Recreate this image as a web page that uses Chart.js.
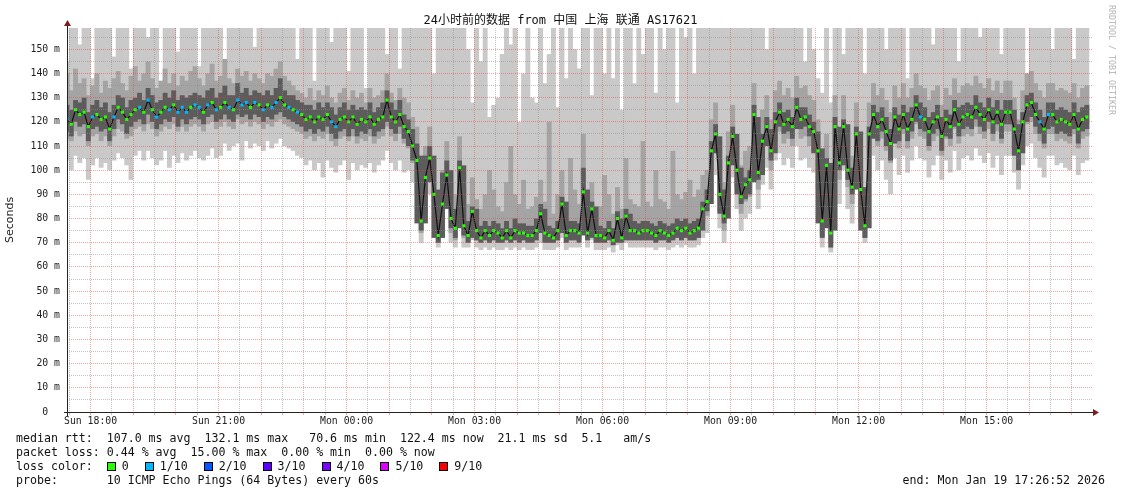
<!DOCTYPE html>
<html><head><meta charset="utf-8">
<script src="https://cdn.jsdelivr.net/npm/chart.js@4.4.1/dist/chart.umd.min.js"></script>
<style>
body{margin:0;background:#fff;}
#wrap{position:relative;width:1121px;height:494px;overflow:hidden;background:#fff;}
#c{position:absolute;left:0;top:0;}
.leg{position:absolute;left:16px;font-family:"DejaVu Sans Mono",monospace;font-size:11.6px;line-height:14px;white-space:pre;color:#111;}
.box{display:inline-block;width:7px;height:7px;border:1px solid #000;vertical-align:-1px;margin-right:6px;}
.lab{margin-right:16px;}
.wm{position:absolute;left:1116px;top:5px;transform:rotate(90deg);transform-origin:0 0;font-family:"DejaVu Sans Mono",monospace;font-size:8.3px;line-height:9px;white-space:pre;color:#b4b4b4;}
</style></head>
<body>
<div id="wrap">
<canvas id="c" width="1121" height="494"></canvas>
<div class="wm">RRDTOOL / TOBI OETIKER</div>
<div class="leg" style="top:431px">median rtt:  107.0 ms avg  132.1 ms max   70.6 ms min  122.4 ms now  21.1 ms sd  5.1   am/s</div>
<div class="leg" style="top:445px">packet loss: 0.44 % avg  15.00 % max  0.00 % min  0.00 % now</div>
<div class="leg" id="lossrow" style="top:459px"></div>
<div class="leg" style="top:473px">probe:       10 ICMP Echo Pings (64 Bytes) every 60s</div>
<div class="leg" style="top:473px;left:auto;right:16px">end: Mon Jan 19 17:26:52 2026</div>
</div>
<script>
const title = '24小时前的数据 from 中国 上海 联通 AS17621';
const startHour = 17.4478;   // Sun 17:26:52, hours since Sun 00:00
const stepHours = 0.1;       // one sample every 6 minutes
const xEnd = 41.4928;

const xMajorTicks = [18, 21, 24, 27, 30, 33, 36, 39];
const xMajorLabels = ['Sun 18:00','Sun 21:00','Mon 00:00','Mon 03:00','Mon 06:00','Mon 09:00','Mon 12:00','Mon 15:00'];
const yMajorTicks = [0,10,20,30,40,50,60,70,80,90,100,110,120,130,140,150];

const lossSteps = [0, 1, 2, 3, 4, 5, 9];
const lossLabels = ['0','1/10','2/10','3/10','4/10','5/10','9/10'];
const lossColors = ['#26ff00','#00b8ff','#0059ff','#5e00ff','#7e00ff','#dd00ff','#ff0000'];

// median rtt (ms)
const med = [
121,119,125,123,124,118,122,123,121,122,
117,122,126,124,121,123,125,126,124,129,
125,122,124,126,125,127,124,126,124,126,
127,126,124,127,128,125,126,128,126,125,
129,127,128,126,128,127,125,127,126,128,
130,127,126,125,124,123,121,122,120,122,
121,123,120,118,121,122,120,122,119,121,
120,122,119,121,122,129,122,120,123,118,
116,110,104,79,97,105,90,73,86,98,
80,76,101,77,73,83,75,72,75,73,
75,74,72,75,72,75,74,74,73,73,
75,82,74,73,72,75,86,73,75,75,
74,91,74,84,73,73,72,75,71,80,
72,81,75,75,74,75,75,74,73,75,
74,73,74,76,75,76,74,75,76,84,
87,108,115,90,81,103,114,100,89,94,
96,123,99,112,118,108,120,124,119,121,
118,126,121,122,118,116,108,79,102,74,
118,103,118,100,93,115,92,77,115,123,
118,121,116,111,122,117,123,117,121,127,
122,121,116,120,122,114,121,118,125,119,
122,123,122,126,123,121,125,120,124,119,
124,124,117,108,120,127,128,123,120,117,
123,123,120,121,120,119,123,117,121,122];

// highest ping
const hi = [
145,160,160,152,160,160,138,160,160,160,
160,147,160,160,160,142,160,160,160,155,
160,160,136,160,160,160,149,160,160,160,
160,143,160,160,160,160,160,139,160,160,
160,160,160,160,151,160,160,160,160,160,
160,160,160,160,146,160,160,160,137,160,
160,160,153,160,160,160,141,160,160,160,
134,160,160,160,160,148,160,160,142,160,
160,160,160,160,160,160,140,160,160,160,
160,160,160,160,150,128,160,145,160,122,
127,130,148,160,152,160,120,140,160,130,
128,160,136,148,160,126,160,138,160,150,
142,160,160,131,160,160,140,160,138,160,
125,160,160,136,160,148,160,160,132,160,
150,160,160,128,160,155,160,140,160,160,
160,160,160,160,160,160,160,160,160,160,
160,160,160,160,150,160,160,160,160,160,
160,160,160,145,160,150,138,132,160,128,
160,160,148,160,160,160,160,140,160,160,
160,160,150,160,160,160,160,138,160,160,
160,160,160,152,160,160,160,160,160,145,
160,160,160,160,155,160,160,160,160,148,
160,160,160,160,160,140,160,160,160,160,
160,150,160,160,160,160,146,160,160,160];

// upper edge of the medium smoke
const mhi = [
140,133,142,136,138,131,135,140,132,137,
134,138,141,136,133,139,143,137,140,145,
138,134,137,142,136,140,135,139,137,141,
143,138,135,140,144,137,139,146,138,136,
142,139,141,137,140,138,136,140,139,142,
145,139,137,135,133,132,130,134,129,133,
131,135,130,128,132,134,129,133,130,132,
128,134,130,131,133,140,132,129,134,130,
128,122,118,96,110,118,104,88,100,112,
95,90,114,92,86,97,88,84,90,100,
92,85,83,95,110,90,86,96,84,85,
89,96,87,120,82,90,100,85,105,92,
86,115,87,95,84,85,98,90,82,93,
84,105,88,86,85,112,87,85,100,88,
87,84,108,90,88,91,96,89,92,98,
100,121,128,104,95,116,127,113,102,108,
110,136,112,125,131,121,133,137,131,134,
130,139,134,135,131,129,121,92,115,88,
131,116,131,113,106,128,105,90,128,136,
131,134,129,124,135,130,136,130,134,140,
135,134,129,133,135,127,134,131,138,132,
135,136,135,139,136,134,138,133,137,132,
137,137,130,121,133,140,141,136,133,130,
136,136,133,134,133,132,136,130,134,135];

// upper edge of the dark smoke
const dhi = [
127,125,129,128,130,124,127,129,126,128,
124,127,131,130,126,129,130,132,129,134,
131,128,129,132,130,133,129,131,130,131,
132,131,130,133,134,130,132,135,131,131,
136,132,134,131,133,132,131,133,131,134,
138,133,131,131,129,128,127,127,125,128,
126,128,126,123,126,128,125,127,125,126,
125,128,124,126,128,133,128,125,129,123,
121,117,111,106,106,110,106,92,99,104,
100,84,104,102,79,85,84,77,79,77,
79,78,76,79,76,80,78,78,77,77,
80,86,84,77,76,79,89,87,79,79,
78,101,92,87,85,77,76,79,76,83,
80,84,82,79,78,79,79,78,77,79,
78,77,78,80,79,80,78,79,80,87,
92,112,119,114,92,106,118,115,101,97,
100,127,122,115,122,117,124,128,124,125,
122,130,126,126,123,120,116,109,105,103,
122,118,121,119,101,118,116,93,118,127,
124,126,122,117,126,123,127,124,126,131,
128,126,122,124,127,122,125,123,129,126,
127,128,127,131,128,126,130,126,129,125,
129,129,125,119,124,131,132,128,125,122,
128,128,125,126,125,124,128,124,126,127];

// lower edge of the dark smoke
const dlo = [
116,114,120,118,119,112,117,118,116,117,
112,117,121,119,115,118,120,121,119,123,
120,117,119,121,120,122,118,121,119,121,
122,121,119,122,123,120,121,123,121,120,
123,122,123,121,123,122,120,122,121,123,
124,122,121,120,119,118,116,117,115,117,
116,118,115,113,116,117,114,117,114,116,
115,117,114,116,117,120,117,115,118,113,
110,104,78,75,78,95,72,70,72,84,
76,72,76,73,70,72,71,70,71,70,
71,70,70,71,70,71,70,71,70,70,
71,74,70,70,70,71,74,70,71,71,
70,73,71,72,70,70,70,71,69,70,
70,71,71,71,71,71,71,71,70,71,
71,70,71,72,71,72,71,71,72,75,
83,86,107,82,78,80,102,90,86,88,
90,95,96,98,110,104,107,118,115,116,
113,117,117,118,114,107,78,72,76,68,
75,100,102,96,90,92,75,72,76,113,
112,116,110,104,111,112,117,112,116,120,
117,116,110,115,117,108,114,113,118,114,
117,118,117,121,118,116,120,115,119,113,
119,119,106,100,107,120,122,118,115,111,
117,118,115,116,115,114,117,111,116,117];

// lower edge of the medium smoke
const mlo = [
113,112,116,114,115,110,114,115,112,114,
110,114,117,116,113,114,117,118,116,119,
117,114,116,118,117,119,116,118,116,118,
119,118,116,119,120,117,118,120,118,117,
121,119,120,118,120,119,117,119,118,120,
121,119,118,117,116,115,113,114,112,114,
113,115,112,110,113,114,112,114,111,113,
112,114,111,113,114,118,114,112,115,111,
109,103,97,74,90,98,84,70,80,91,
74,71,94,72,70,77,71,70,71,70,
71,70,70,71,70,71,70,71,70,70,
71,76,70,70,70,71,79,70,71,71,
71,84,71,78,70,70,70,71,69,74,
70,75,71,71,71,71,71,71,70,71,
71,70,71,72,71,72,71,71,72,78,
81,100,107,83,75,96,106,93,82,87,
89,115,92,104,110,100,112,116,111,113,
110,118,113,114,110,108,100,73,95,70,
110,96,110,93,86,107,85,72,107,115,
110,113,108,103,114,109,115,109,113,119,
114,113,108,112,114,106,113,110,117,111,
114,115,114,118,115,113,117,112,116,111,
116,116,109,100,112,119,120,115,112,109,
115,115,112,113,112,111,115,109,113,114];

// lowest ping
const lo = [
104,100,106,103,105,96,102,105,101,103,
100,104,107,105,102,96,106,108,104,108,
105,102,104,108,101,106,103,107,104,106,
108,105,104,106,109,105,106,111,108,110,
111,104,112,109,111,110,108,112,109,111,
113,110,109,108,106,105,102,104,100,103,
97,104,101,99,102,104,96,103,100,102,
101,103,99,102,104,108,103,100,104,99,
100,95,90,70,82,90,76,68,72,84,
70,68,86,68,68,71,68,67,68,67,
68,67,67,68,67,68,67,68,67,67,
68,70,67,67,67,68,72,67,68,68,
68,76,68,71,67,67,67,68,66,69,
67,70,68,68,68,68,68,68,67,68,
68,67,68,69,68,69,68,68,69,72,
74,90,98,76,70,86,97,84,75,80,
82,106,84,94,101,92,104,107,102,105,
101,110,104,105,101,99,92,68,86,66,
100,86,100,84,78,96,78,70,97,106,
100,104,96,90,105,98,106,99,104,110,
105,104,97,102,106,96,104,99,108,100,
105,106,104,109,106,103,107,101,106,98,
106,106,99,92,102,110,111,105,101,97,
106,106,102,103,101,100,106,98,103,104];

// packet loss per sample (tenths)
const loss = [
1,0,0,0,0,0,1,0,0,0, 0,1,0,0,0,0,0,1,0,1, 0,1,0,0,1,0,1,1,1,0, 1,1,0,1,0,1,0,0,1,0,
1,1,1,0,1,0,1,0,1,1, 0,0,1,0,1,0,0,0,0,0, 0,0,1,1,0,0,0,0,0,0, 0,0,0,0,0,0,0,0,0,0,
0,0,0,0,0,0,0,0,0,0, 0,0,0,0,0,0,0,0,0,0, 0,0,0,0,0,0,0,0,0,0, 0,0,0,0,0,0,0,0,0,0,
0,0,0,0,0,0,0,0,0,0, 0,0,0,0,0,0,0,0,0,0, 0,0,0,0,0,0,0,0,0,0, 0,0,0,0,0,0,0,0,0,0,
0,0,0,0,0,0,0,0,0,0, 0,0,0,0,0,0,0,0,0,0, 0,0,0,0,0,0,0,0,0,0, 0,0,0,0,0,0,0,0,0,0,
1,0,0,0,0,0,0,0,0,0, 0,0,0,0,0,0,0,0,0,0, 0,0,0,0,0,0,0,0,1,0, 1,0,0,0,0,0,0,0,0,0,
1,0,0,1,0,0,0,0,0,0];

// legend for loss colours
document.getElementById('lossrow').innerHTML = 'loss color:  ' + lossSteps.map((s, k) =>
  '<span class="box" style="background:' + lossColors[k] + '"></span><span class="lab">' + lossLabels[k] + '</span>').join('');

const tx = i => startHour + i * stepHours;
const band = (a, b) => a.map((v, i) => ({x: tx(i), y: [v, b[i]]}));
const pts = a => a.map((v, i) => ({x: tx(i), y: v}));
const colorOf = l => lossColors[Math.max(0, lossSteps.indexOf(l))];

const xGrid = [];
for (let h = Math.ceil(startHour * 2) / 2; h < xEnd; h += 0.5) xGrid.push(h);
const yGrid = [];
for (let v = 0; v <= 155; v += 5) yGrid.push(v);

const MAJOR = 'rgba(235,60,60,0.45)';
const MINOR = 'rgba(140,140,140,0.5)';
const tickFont = {family: '"DejaVu Sans Mono", monospace', size: 9.8};

const arrows = {
  id: 'arrows',
  afterDraw(chart) {
    const {ctx, chartArea: {left, right, top, bottom}} = chart;
    ctx.save();
    ctx.strokeStyle = '#222';
    ctx.lineWidth = 1;
    ctx.beginPath();
    ctx.moveTo(left + 0.5, bottom + 4); ctx.lineTo(left + 0.5, top - 3);
    ctx.moveTo(left - 3, bottom + 0.5); ctx.lineTo(right + 1, bottom + 0.5);
    ctx.stroke();
    ctx.fillStyle = '#7d1e1e';
    ctx.beginPath();
    ctx.moveTo(left + 0.5, top - 8); ctx.lineTo(left - 3, top - 2); ctx.lineTo(left + 4, top - 2); ctx.closePath(); ctx.fill();
    ctx.beginPath();
    ctx.moveTo(right + 6, bottom + 0.5); ctx.lineTo(right, bottom - 3); ctx.lineTo(right, bottom + 4); ctx.closePath(); ctx.fill();
    ctx.restore();
  }
};

const barCommon = {type: 'bar', grouped: false, barPercentage: 1.15, categoryPercentage: 1, borderWidth: 0, borderSkipped: false};

new Chart(document.getElementById('c'), {
  type: 'bar',
  data: {
    datasets: [
      Object.assign({}, barCommon, {data: band(lo, hi), backgroundColor: '#c9c9c9', order: 10}),
      Object.assign({}, barCommon, {data: band(mlo, mhi), backgroundColor: '#a4a4a4', order: 9}),
      Object.assign({}, barCommon, {data: band(dlo, dhi), backgroundColor: '#5c5c5c', order: 8}),
      {type: 'line', data: pts(med), borderColor: '#111', borderWidth: 1.2, pointRadius: 0, tension: 0, order: 6},
      {type: 'line', data: pts(med), showLine: false, pointStyle: 'rect', pointRadius: 2.2, pointBorderWidth: 0,
       pointBackgroundColor: loss.map(colorOf), order: 5}
    ]
  },
  options: {
    responsive: false, animation: false, devicePixelRatio: 1,
    layout: {padding: {left: 0, right: 0, top: 0, bottom: 0}},
    plugins: {
      legend: {display: false}, tooltip: {enabled: false},
      title: {display: true, text: title, color: '#111',
        font: {family: '"DejaVu Sans Mono", "Noto Sans CJK SC", monospace', size: 12, weight: 'normal', lineHeight: 1.2},
        padding: {top: 13.5, bottom: 0.1}}
    },
    scales: {
      x: {
        type: 'linear', min: startHour, max: xEnd, offset: false,
        afterBuildTicks: ax => { ax.ticks = xGrid.map(v => ({value: v})); },
        afterFit: ax => { ax.height = 82; },
        ticks: {autoSkip: false, maxRotation: 0, minRotation: 0, padding: 1, font: tickFont, color: '#222',
          callback: v => { const k = xMajorTicks.indexOf(v); return k >= 0 ? xMajorLabels[k] : ''; }},
        grid: {offset: false, z: 1, drawTicks: true, tickLength: 3, lineWidth: 1,
          color: c => (c.tick && Number.isInteger(c.tick.value)) ? MAJOR : MINOR, borderDash: [1, 1]},
        border: {display: false, dash: [1, 1]}
      },
      y: {
        type: 'linear', min: 0, max: 158.8,
        afterBuildTicks: ax => { ax.ticks = yGrid.map(v => ({value: v})); },
        afterFit: ax => { ax.width = 67; },
        ticks: {autoSkip: false, padding: 7, font: tickFont, color: '#222',
          callback: v => yMajorTicks.includes(v) ? (v === 0 ? '0  ' : v + ' m') : ''},
        grid: {z: 1, drawTicks: false, lineWidth: 1,
          color: c => (c.tick && c.tick.value % 10 === 0) ? MAJOR : MINOR, borderDash: [1, 1]},
        border: {display: false, dash: [1, 1]},
        title: {display: true, text: 'Seconds', color: '#222', font: {family: '"DejaVu Sans", sans-serif', size: 11}, padding: {top: 4, bottom: 0}}
      },
      yRight: {
        type: 'linear', position: 'right', min: 0, max: 158.8, display: true,
        afterFit: ax => { ax.width = 28; },
        grid: {display: false, drawTicks: false}, ticks: {display: false}, border: {display: false}
      }
    }
  },
  plugins: [arrows]
});
</script>
</body></html>
